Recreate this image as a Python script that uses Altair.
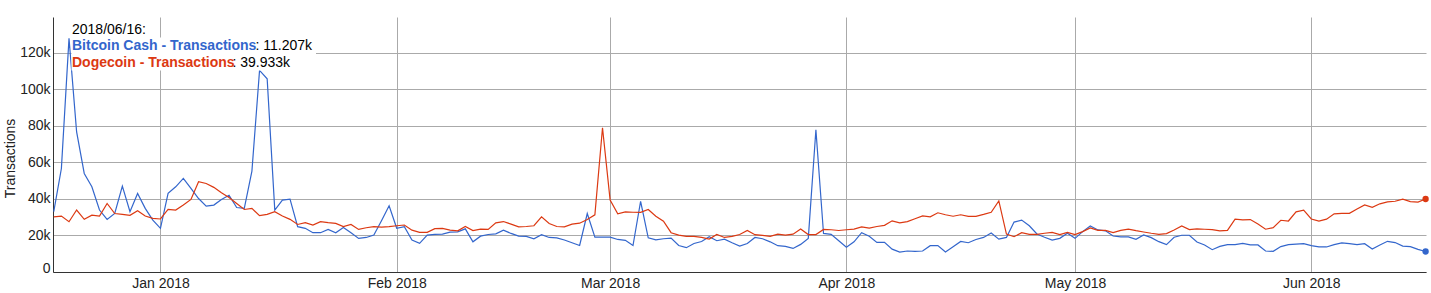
import altair as alt
import pandas as pd

# ---------------- data (thousands of transactions per day) ----------------
start_date = "2017-12-18"
n_days = 181

bitcoin_cash_k = [
    33, 56.6, 127.8, 76.6, 53.9, 46.6, 33.9, 28.8, 32, 47,
    33, 43, 34.8, 28.4, 23.9, 43, 46.6, 51.2, 45.7, 40.2,
    36, 36.6, 39.7, 42, 35.3, 34.8, 55.2, 110.3, 105.7, 33.9,
    39.3, 39.9, 24.8, 23.9, 21.5, 21.5, 23.3, 21.5, 24.4, 21.5,
    18.4, 18.9, 20.2, 28, 36.2, 23.9, 24.8, 17.5, 15.7, 20.2,
    20.6, 20.7, 21.8, 22, 23.6, 16.5, 19.6, 20.5, 20.9, 22.9,
    21.1, 19.6, 19.5, 18.2, 20.4, 18.9, 18.7, 17.5, 16, 14.5,
    32, 19.1, 19.1, 19.1, 17.8, 17.3, 14.5, 38.7, 18.7, 17.6,
    18.2, 18.5, 14.5, 13.3, 15.6, 16.7, 19.3, 17.1, 18, 16,
    14.2, 15.6, 18.9, 18.2, 16.5, 14.4, 14, 12.9, 15.1, 18.4,
    77.8, 21.1, 20.6, 17.1, 13.6, 16.5, 21.5, 19.6, 16.2, 16.2,
    12.5, 10.9, 11.5, 11.3, 11.5, 14.4, 14.5, 10.9, 13.8, 16.7,
    16, 17.8, 18.9, 21.3, 18, 18.9, 27.3, 28.4, 25.3, 20.8,
    19, 17.5, 18.4, 21.2, 18.4, 22.1, 25.2, 23, 22.5, 19.7,
    19.2, 19.2, 17.9, 20.3, 18.8, 16.6, 15, 19, 20.1, 20.1,
    16.4, 14.8, 12.2, 14, 15, 15, 15.7, 14.8, 14.8, 11.5,
    11.3, 13.9, 15, 15.3, 15.5, 14.4, 13.7, 13.7, 15, 15.9,
    15.5, 15, 15.5, 12.6, 14.8, 16.8, 16.1, 14.2, 13.9, 12.4,
    11.207,
]

dogecoin_k = [
    30.2, 30.6, 27.5, 33.9, 28.8, 31.1, 30.6, 37.5, 32, 31.5,
    31, 33.5, 30.6, 29.3, 29, 34.2, 33.9, 36.6, 39.7, 49.4,
    48.4, 46.3, 43.3, 40.8, 37.5, 34.2, 34.8, 30.8, 31.5, 33,
    30.6, 28.8, 26, 27, 25.7, 27.5, 27, 26.6, 24.8, 26,
    23.3, 24.2, 24.8, 24.6, 24.8, 25.3, 25.7, 22.9, 21.7, 21.7,
    23.7, 23.9, 22.9, 22.5, 24.9, 22.7, 23.5, 23.3, 26.9, 27.6,
    26.2, 24.7, 24.9, 25.3, 30.2, 26.5, 24.9, 24.7, 26.2, 26.7,
    28.7, 31.3, 78.9, 39.3, 31.8, 32.9, 32.7, 32.6, 34.2, 30.5,
    27.8, 21.5, 20.2, 19.5, 19.5, 18.9, 18, 20.5, 18.9, 19.5,
    20.5, 22.7, 20.4, 20, 19.5, 20.7, 20.2, 20.7, 23.5, 20.5,
    20.5, 23.3, 23.1, 22.7, 23.1, 23.5, 24.7, 24, 24.9, 25.5,
    28, 26.9, 27.6, 29.1, 30.7, 30.2, 32.4, 31.3, 30.5, 31.3,
    30.4, 30.4, 31.5, 32.7, 38.9, 20.7, 19.3, 21.5, 20.6, 20.6,
    21.2, 21.7, 20.5, 21.7, 20.5, 22.1, 24.1, 22.8, 22.8, 21.6,
    22.8, 23.4, 22.6, 21.9, 21.2, 20.6, 21, 23, 25.2, 23.2,
    23.6, 23.4, 23.2, 22.5, 22.8, 28.9, 28.5, 28.7, 26.3, 23.4,
    24.3, 28.3, 27.9, 32.9, 33.8, 29, 27.8, 28.9, 31.8, 32.1,
    32.1, 34.5, 36.7, 35.4, 37.3, 38.4, 38.7, 39.8, 38.5, 38.2,
    39.933,
]

series_names = ["Bitcoin Cash - Transactions", "Dogecoin - Transactions"]
series_colors = ["#3366cc", "#dc3912"]
y_ticks = [0, 20000, 40000, 60000, 80000, 100000, 120000]
month_ticks = [(2018, m) for m in range(1, 7)]
hover_date_label = "2018/06/16:"
hover_values = ["11.207k", "39.933k"]

# ---------------- build table ----------------
dates = pd.date_range(start_date, periods=n_days, freq="D").strftime("%Y-%m-%d").tolist()
rows = []
for d, b, g in zip(dates, bitcoin_cash_k, dogecoin_k):
    rows.append({"date": d, "series": series_names[0], "value": b * 1000})
    rows.append({"date": d, "series": series_names[1], "value": g * 1000})
df = pd.DataFrame(rows)
last_df = df[df["date"] == dates[-1]]

t0 = pd.Timestamp(start_date, tz="UTC")
dom_left = int((t0 - pd.Timedelta(hours=2.4)).value // 10**6)
dom_right = int((t0 + pd.Timedelta(days=n_days - 1, hours=1.2)).value // 10**6)

FONT = "Liberation Sans"

x_enc = alt.X(
    "date:T",
    scale=alt.Scale(type="utc", domain=[dom_left, dom_right]),
    axis=alt.Axis(
        values=[alt.DateTime(year=y, month=m, date=1, utc=True) for y, m in month_ticks],
        labelExpr="utcFormat(datum.value, '%b %Y')",
        title=None,
        labelPadding=4,
    ),
)
y_enc = alt.Y(
    "value:Q",
    scale=alt.Scale(domain=[0, 139500], nice=False, zero=True),
    axis=alt.Axis(
        values=y_ticks,
        labelExpr="datum.value === 0 ? '0' : format(datum.value / 1000, 'd') + 'k'",
        labelBaseline={"condition": {"test": "datum.value === 0", "value": "alphabetic"},
                       "value": "middle"},
        title="Transactions",
        titlePadding=2,
        titleY=141,
        labelPadding=3,
    ),
)
color_enc = alt.Color(
    "series:N",
    scale=alt.Scale(domain=series_names, range=series_colors),
    legend=None,
)

lines = alt.Chart(df).mark_line(strokeWidth=1.2).encode(x=x_enc, y=y_enc, color=color_enc)
dots = alt.Chart(last_df).mark_point(filled=True, size=40, opacity=1).encode(
    x="date:T", y="value:Q", color=color_enc
)

# ---------------- hover tooltip annotation ----------------
def bg(x1, x2, y1, y2):
    return alt.Chart(pd.DataFrame({"k": [0]})).mark_rect(color="white").encode(
        x=alt.value(x1), x2=alt.value(x2), y=alt.value(y1), y2=alt.value(y2)
    )

def txt(s, x, y, color, bold=False):
    return alt.Chart(pd.DataFrame({"t": [s]})).mark_text(
        align="left", baseline="middle", font=FONT, fontSize=14,
        fontWeight="bold" if bold else "normal", color=color,
    ).encode(text="t:N", x=alt.value(x), y=alt.value(y))

# plot-area coords (view origin at left=53, top=17)
ox, oy = 53, 17
ann = [
    bg(71.5 - ox, 147 - ox, 21 - oy, 37.5 - oy),
    bg(71.5 - ox, 316 - ox, 37.5 - oy, 54 - oy),
    bg(71.5 - ox, 293 - ox, 54 - oy, 70.5 - oy),
    txt(hover_date_label, 72 - ox, 29.5 - oy, "#000000"),
    txt(series_names[0], 72 - ox, 46 - oy, series_colors[0], bold=True),
    txt(": " + hover_values[0], 255.5 - ox, 46 - oy, "#000000"),
    txt(series_names[1], 72 - ox, 62.5 - oy, series_colors[1], bold=True),
    txt(": " + hover_values[1], 232.5 - ox, 62.5 - oy, "#000000"),
]

chart = alt.layer(lines, dots, *ann).properties(
    width=1373,
    height=255,
    padding={"left": 53, "top": 17, "right": 5, "bottom": 21},
    autosize=alt.AutoSizeParams(type="none"),
    background="white",
).configure_view(stroke=None).configure_axis(
    labelFont=FONT,
    labelFontSize=14,
    labelColor="#222222",
    titleFont=FONT,
    titleFontSize=14,
    titleFontWeight="normal",
    titleColor="#222222",
    gridColor="#aaaaaa",
    gridWidth=1,
    domainColor="#333333",
    domainWidth=1,
    tickSize=0,
    ticks=False,
)

chart.save("out.html", embed_options={"renderer": "svg", "actions": False})
